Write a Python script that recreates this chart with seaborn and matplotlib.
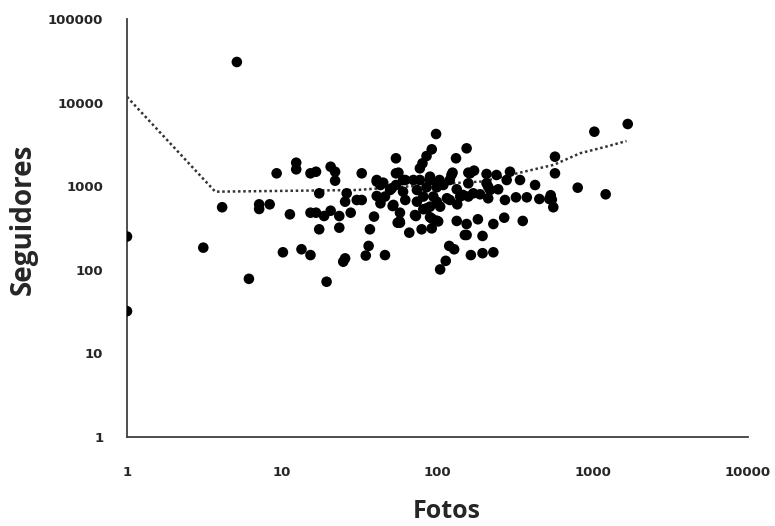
import seaborn as sns
import matplotlib.pyplot as plt
import pandas as pd

sns.set_style("white")
plt.rcParams['font.family'] = ['DejaVu Sans']

# photos vs followers
fotos = [1, 1, 3.1, 4.1, 5.1, 6.1, 7.1, 7.1, 8.3, 9.2, 10.1, 11.2, 12.3, 12.3, 13.3,
         15.2, 16.5, 15.2, 15.2, 16.5, 17.3, 17.3, 18.6, 19.3, 20.5, 20.5, 21.9, 21.9,
         23.3, 23.3, 25.4, 24.7, 26, 25.4, 27.6, 30.2, 32.5, 32.5, 34.5, 36.7, 36, 39,
         40.6, 40.6, 40.6, 42.9, 42.9, 45.9, 45.9, 49.5, 51.4, 54, 54, 54, 50.7, 55.4,
         97.9, 91.8, 85, 80, 77, 56, 154, 131.6, 125, 158, 172, 207, 240, 293, 571, 571,
         1024, 1680, 800, 1211, 425, 320, 376, 453, 525, 557, 354, 269, 229, 182, 154,
         133, 150, 195, 119, 128, 164, 195, 229, 113, 104, 65.8, 57.3, 57.3, 72.6, 79,
         91.8, 98.8, 89.5, 81, 134, 115, 158, 188, 212, 218, 246, 272, 207, 279, 340,
         158, 133, 120, 103, 89.5, 77, 70, 62, 44.7, 60, 73.7, 85, 98.8, 109, 81, 94,
         62, 73.7, 89.5, 104, 120, 140, 170, 89.5, 101, 123, 162, 212, 146, 99, 85, 71.6,
         52, 57, 101, 92, 154, 60, 536, 545]
seguidores = [250, 32, 184, 560, 30600, 78, 607, 534, 607, 1426, 162, 461, 1910, 1592, 176,
              1426, 1490, 150, 482, 482, 822, 305, 440, 72, 1710, 509, 1490, 1164,
              440, 319, 137, 125, 822, 653, 482, 684, 684, 1426, 148, 305, 193, 433,
              1186, 764, 1136, 1033, 624, 752, 150, 901, 579, 2157, 1426, 1033, 944, 366,
              4210, 2762, 2296, 1878, 1636, 1452, 2838, 2157, 1452, 1452, 1535, 1400, 1361, 1490, 2254, 1426,
              4487, 5546, 960, 800, 1033, 736, 736, 703, 703, 560, 384, 420, 353, 402, 353,
              384, 261, 254, 193, 176, 150, 158, 162, 128, 101, 278, 366, 482, 440, 305,
              313, 387, 425, 530, 607, 717, 752, 800, 717, 901, 918, 684, 1083, 1186, 1186,
              1083, 918, 1186, 1186, 1186, 1186, 1186, 1186, 1102, 859, 901, 970, 970, 1033, 752, 752,
              684, 653, 569, 569, 684, 752, 822, 1300, 1083, 1361, 1426, 986, 786, 653, 544, 452,
              597, 379, 379, 410, 261, 1186, 780, 690]

# dotted trend line
trend_x = [1, 3.7, 30, 57, 100, 140, 196, 360, 560, 830, 1200, 1650]
trend_y = [11700, 860, 900, 980, 1040, 1100, 1140, 1490, 1800, 2480, 2950, 3470]

df = pd.DataFrame({'Fotos': fotos, 'Seguidores': seguidores})

fig = plt.figure(figsize=(7.75, 5.26), dpi=100)
ax = fig.add_axes([127 / 775, 89 / 526, 621 / 775, 418 / 526])

sns.scatterplot(x='Fotos', y='Seguidores', data=df, color='black', s=58,
                edgecolor='none', ax=ax, zorder=3)
ax.plot(trend_x, trend_y, color='#333333', lw=1.8, linestyle=(0, (1, 1.1)), zorder=2)

ax.set_xscale('log')
ax.set_yscale('log')
ax.set_xlim(1, 10000)
ax.set_ylim(1, 100000)
ax.set_xticks([1, 10, 100, 1000, 10000])
ax.set_yticks([1, 10, 100, 1000, 10000, 100000])
ax.set_xticklabels(['1', '10', '100', '1000', '10000'])
ax.set_yticklabels(['1', '10', '100', '1000', '10000', '100000'])
ax.minorticks_off()
ax.tick_params(axis='x', length=0, pad=21, labelsize=9.5)
ax.tick_params(axis='y', length=0, pad=17, labelsize=9.5)
for lab in ax.get_xticklabels() + ax.get_yticklabels():
    lab.set_fontweight('bold')

sns.despine(ax=ax)
for side in ['left', 'bottom']:
    ax.spines[side].set_color('#404040')
    ax.spines[side].set_linewidth(1.3)

ax.set_xlabel('')
ax.set_ylabel('')
fig.text(447 / 775, 1 - 512 / 526, 'Fotos', ha='center', va='center',
         fontsize=18, fontweight='bold', family=['Open Sans', 'DejaVu Sans'])
fig.text(23 / 775, 1 - 219 / 526, 'Seguidores', ha='center', va='center', rotation=90,
         fontsize=20, fontweight='bold', family=['Open Sans', 'DejaVu Sans'])

plt.savefig('out.png', dpi=100)
